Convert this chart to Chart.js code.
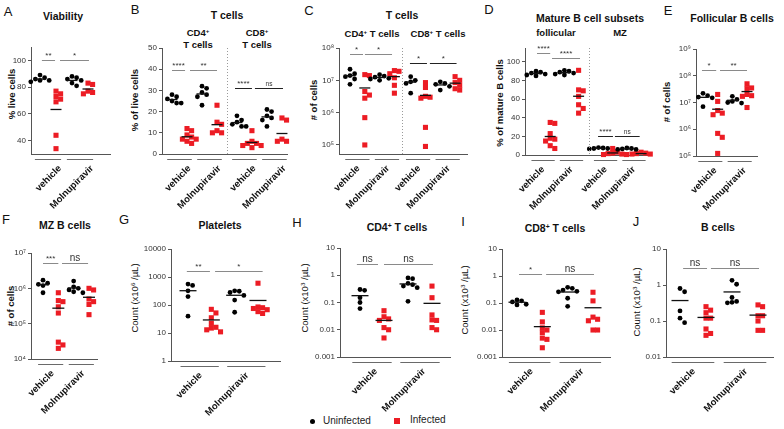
<!DOCTYPE html>
<html>
<head>
<meta charset="utf-8">
<script src="https://cdn.jsdelivr.net/npm/chart.js@4.4.1/dist/chart.umd.min.js"></script>
<style>
  body { margin: 0; background: #fff; }
  #fig { position: relative; width: 784px; height: 429px; overflow: hidden; font-family: "Liberation Sans", Arial, sans-serif; color: #111; }
  #fig canvas { position: absolute; }
  .t { position: absolute; transform: translate(-50%, -50%); white-space: nowrap; line-height: 1; }
  .title { font-weight: bold; font-size: 10.5px; }
  .sub { font-weight: bold; font-size: 9.5px; text-align: center; line-height: 12px; }
  .letter { font-size: 13px; }
  .yt { font-weight: bold; font-size: 9.5px; transform: translate(-50%, -50%) rotate(-90deg); }
  .yc { font-size: 9.5px; transform: translate(-50%, -50%) rotate(-90deg); }
  sup { font-size: 65%; position: relative; top: -0.5em; vertical-align: baseline; line-height: 0; }
  .leg { position: absolute; font-size: 10px; color: #222; line-height: 1; }
  .dot { position: absolute; width: 5px; height: 5px; border-radius: 50%; background: #000; }
  .sq { position: absolute; width: 6px; height: 6px; background: #ec1c24; }
</style>
</head>
<body>
<div id="fig">
  <!-- panel letters -->
  <div class="t letter" style="left:8px;top:11px">A</div>
  <div class="t letter" style="left:135px;top:9px">B</div>
  <div class="t letter" style="left:309px;top:10px">C</div>
  <div class="t letter" style="left:489px;top:9px">D</div>
  <div class="t letter" style="left:668px;top:10px">E</div>
  <div class="t letter" style="left:6px;top:219px">F</div>
  <div class="t letter" style="left:124px;top:219px">G</div>
  <div class="t letter" style="left:297px;top:222px">H</div>
  <div class="t letter" style="left:463px;top:221px">I</div>
  <div class="t letter" style="left:636px;top:221px">J</div>

  <!-- titles -->
  <div class="t title" style="left:63px;top:16px">Viability</div>
  <div class="t title" style="left:227px;top:15px">T cells</div>
  <div class="t sub" style="left:198px;top:39px">CD4<sup>+</sup><br>T cells</div>
  <div class="t sub" style="left:257px;top:39px">CD8<sup>+</sup><br>T cells</div>
  <div class="t title" style="left:402px;top:15px">T cells</div>
  <div class="t sub" style="left:372px;top:34px">CD4<sup>+</sup> T cells</div>
  <div class="t sub" style="left:438px;top:34px">CD8<sup>+</sup> T cells</div>
  <div class="t title" style="left:590px;top:18px">Mature B cell subsets</div>
  <div class="t sub" style="left:556px;top:33px">follicular</div>
  <div class="t sub" style="left:620px;top:33px">MZ</div>
  <div class="t title" style="left:732px;top:18px">Follicular B cells</div>
  <div class="t title" style="left:65px;top:225px">MZ B cells</div>
  <div class="t title" style="left:220px;top:225px">Platelets</div>
  <div class="t title" style="left:397px;top:227px">CD4<sup>+</sup> T cells</div>
  <div class="t title" style="left:555px;top:228px">CD8<sup>+</sup> T cells</div>
  <div class="t title" style="left:718px;top:227px">B cells</div>

  <!-- y axis titles -->
  <div class="t yt" style="left:12px;top:94px">% live cells</div>
  <div class="t yt" style="left:135px;top:100px">% of live cells</div>
  <div class="t yt" style="left:314px;top:100px"># of cells</div>
  <div class="t yt" style="left:500px;top:103px">% of mature B cells</div>
  <div class="t yt" style="left:667px;top:102px"># of cells</div>
  <div class="t yt" style="left:11px;top:306px"># of cells</div>
  <div class="t yc" style="left:135px;top:298px">Count (x10<sup>6</sup> /µL)</div>
  <div class="t yc" style="left:305px;top:298px">Count (x10<sup>3</sup> /µL)</div>
  <div class="t yc" style="left:465px;top:300px">Count (x10<sup>3</sup> /µL)</div>
  <div class="t yc" style="left:637px;top:302px">Count (x10<sup>3</sup> /µL)</div>

  <!-- legend -->
  <div class="dot" style="left:310px;top:419px"></div>
  <div class="leg" style="left:323px;top:416px">Uninfected</div>
  <div class="sq" style="left:394px;top:418px"></div>
  <div class="leg" style="left:410px;top:415px">Infected</div>
</div>
<script>
const treatments = ['vehicle', 'Molnupiravir'];
const seriesNames = ['Uninfected', 'Infected'];
const seriesColors = ['#000000', '#ec1c24'];

// group order in every panel: vehicle Uninfected, vehicle Infected, Molnupiravir Uninfected, Molnupiravir Infected (repeated per subset)

// A  viability (% live cells)
const viability = [
    [89, 87, 86, 85, 85, 84],
    [77, 75, 73, 71, 69, 44, 34],
    [88, 87, 86, 85, 83, 81],
    [83, 82, 77, 76, 75]
];
const viabilityTicks = [40, 60, 80, 100];
const viabilitySig = ['**', '*'];

// B  T cells, % of live cells (CD4 then CD8)
const tCellPct = [
    [28, 27, 26, 25, 24, 24],
    [12, 11, 9, 8, 7, 7, 6, 5],
    [32, 31, 29, 28, 27, 23],
    [23, 15, 14, 11, 10, 10],
    [18, 16, 15, 14, 13, 13],
    [11, 6, 5, 5, 4, 4, 3],
    [21, 20, 18, 17, 16, 13],
    [17, 16, 7, 6, 6, 6]
];
const tCellPctTicks = [0, 10, 20, 30, 40, 50];
const tCellPctSig = ['****', '**', '****', 'ns'];

// C  T cells, # of cells (CD4 then CD8)
const tCellCount = [
    [2.2e7, 1.6e7, 1.4e7, 1.3e7, 1.1e7, 7.5e6],
    [1.5e7, 1.4e7, 4.5e6, 3.5e6, 2.8e6, 7e5, 1e5],
    [1.5e7, 1.35e7, 1.25e7, 1.15e7, 1.1e7, 1e7],
    [2e7, 1.9e7, 1.6e7, 1.2e7, 7e6, 4e6],
    [1.3e7, 1e7, 9e6, 8e6, 4e6],
    [8.5e6, 6e6, 3.2e6, 3e6, 2.8e6, 3.5e5, 9e4],
    [9e6, 8e6, 7.5e6, 6.5e6, 5e6],
    [1.3e7, 1e7, 8.5e6, 7e6, 5.5e6, 5e6]
];
const tCellCountTicks = [1e5, 1e6, 1e7, 1e8];
const tCellCountTickLabels = ['10⁵', '10⁶', '10⁷', '10⁸'];
const tCellCountSig = ['*', '*', '*', '*'];

// D  mature B cell subsets, % (follicular then MZ)
const matureB = [
    [90, 89, 88, 87, 86, 85],
    [35, 34, 23, 18, 17, 15, 10, 7],
    [91, 90, 89, 88, 87, 86],
    [91, 70, 69, 63, 54, 50, 45],
    [8, 7.5, 7, 7, 6.5],
    [7, 3, 2, 1.5, 1, 0.5, 0.5],
    [7.5, 7, 6.5, 6, 6],
    [3, 2, 1.5, 1, 1, 0.5]
];
const matureBTicks = [0, 20, 40, 60, 80, 100];
const matureBSig = ['****', '****', '****', 'ns'];

// E  follicular B cells, # of cells
const follicularB = [
    [2.2e7, 1.8e7, 1.6e7, 1.5e7, 7e6],
    [2e7, 1.1e7, 5e6, 4e6, 3.5e6, 7e5, 5e5, 1.25e5],
    [1.7e7, 1.3e7, 1.1e7, 1e7, 9.5e6],
    [5e7, 3.5e7, 3.3e7, 2e7, 1.8e7, 1.7e7, 6.5e6]
];
const follicularBTicks = [1e5, 1e6, 1e7, 1e8, 1e9];
const follicularBTickLabels = ['10⁵', '10⁶', '10⁷', '10⁸', '10⁹'];
const follicularBSig = ['*', '**'];

// F  MZ B cells, # of cells
const mzB = [
    [1.7e6, 1.4e6, 1.3e6, 1.2e6, 7.5e5],
    [7.5e5, 4.5e5, 4.2e5, 3e5, 2e5, 3e4, 2.5e4, 2e4],
    [1.6e6, 1.1e6, 1e6, 9e5, 8e5, 7.5e5],
    [1e6, 9e5, 5e5, 4.2e5, 3.5e5, 1.8e5]
];
const mzBTicks = [1e4, 1e5, 1e6, 1e7];
const mzBTickLabels = ['10⁴', '10⁵', '10⁶', '10⁷'];
const mzBSig = ['***', 'ns'];

// G  platelets, count (x10^6 /uL)
const platelets = [
    [560, 500, 320, 200, 40],
    [70, 52, 35, 22, 16, 15, 13, 11],
    [320, 310, 280, 220, 150, 55],
    [600, 85, 80, 75, 68, 58, 50]
];
const plateletTicks = [1, 10, 100, 1000, 10000];
const plateletSig = ['**', '*'];

// H / I / J  blood counts (x10^3 /uL)
const cd4Blood = [
    [0.3, 0.28, 0.15, 0.1, 0.06],
    [0.05, 0.03, 0.025, 0.022, 0.012, 0.01, 0.005],
    [0.8, 0.75, 0.5, 0.45, 0.4, 0.35, 0.11],
    [0.4, 0.15, 0.035, 0.023, 0.022, 0.012, 0.01]
];
const cd8Blood = [
    [0.13, 0.12, 0.11, 0.09, 0.085],
    [0.045, 0.02, 0.012, 0.01, 0.008, 0.005, 0.0045, 0.0022],
    [0.38, 0.35, 0.3, 0.27, 0.26, 0.15, 0.075],
    [0.25, 0.12, 0.03, 0.025, 0.022, 0.01, 0.01]
];
const bBlood = [
    [0.8, 0.65, 0.19, 0.12, 0.09],
    [0.25, 0.2, 0.17, 0.12, 0.12, 0.06, 0.045, 0.04],
    [1.35, 1.05, 0.45, 0.35, 0.33, 0.32],
    [0.28, 0.25, 0.14, 0.14, 0.1, 0.055, 0.055]
];
const bloodTicks = [0.001, 0.01, 0.1, 1, 10];
const bloodTickLabels = ['0.001', '0.01', '0.1', '1', '10'];
const cd4BloodSig = ['ns', 'ns'];
const cd8BloodSig = ['*', 'ns'];
const bBloodSig = ['ns', 'ns'];

const FONT = '"Liberation Sans", Arial, sans-serif';
const XS4 = [0, 1, 2, 3];

// layout of each panel: plot box in page pixels, pixel of group 0 and px per group
// sigLines: [from group, to group, y value, dark line]
const panels = [
    { plot: { l: 31, r: 110, t: 47, b: 154 }, x0: 40, step: 16, xs: XS4,
      ymin: 30, ymax: 110, log: false, ticks: viabilityTicks, values: viability, sig: viabilitySig,
      sigLines: [[0.12, 0.94, 100], [1.25, 3.06, 100]], labelDx: 12, meanHalf: 5.5, nsSize: 6.5 },
    { plot: { l: 162, r: 287, t: 48, b: 154 }, x0: 172, step: 15, xs: [0, 1, 2, 3, 4.33, 5.33, 6.33, 7.33], sep: 3.67,
      ymin: 0, ymax: 50, log: false, ticks: tCellPctTicks, values: tCellPct, sig: tCellPctSig,
      sigLines: [[0, 0.87, 39.5], [1.2, 3, 39.5], [4.2, 5.33, 31, true], [5.53, 7.4, 31, true]], labelDx: 10, meanHalf: 5.5, nsSize: 6.5 },
    { plot: { l: 339, r: 467, t: 48, b: 154 }, x0: 350, step: 14.8, xs: [0, 1, 2, 3, 4.1, 5.1, 6.1, 7.1], sep: 3.51,
      ymin: 5.25e4, ymax: 1e8, log: true, ticks: tCellCountTicks, tickLabels: tCellCountTickLabels, values: tCellCount, sig: tCellCountSig,
      sigLines: [[0, 0.88, 6.5e7], [1.01, 2.84, 6.5e7], [4.05, 5.2, 3.4e7, true], [5.4, 7.2, 3.4e7, true]], labelDx: 1, meanHalf: 5.5, nsSize: 6.5 },
    { plot: { l: 525, r: 650, t: 48, b: 155 }, x0: 536, step: 14.2, xs: [0, 1, 2, 3, 4.4, 5.4, 6.4, 7.4], sep: 3.73,
      ymin: 0, ymax: 115, log: false, ticks: matureBTicks, values: matureB, sig: matureBSig,
      sigLines: [[0.07, 1, 110], [1.13, 3.1, 104], [4.37, 5.42, 20, true], [5.56, 7.3, 20, true]], labelDx: 0, meanHalf: 5.5, nsSize: 6.5 },
    { plot: { l: 696, r: 757, t: 49, b: 156 }, x0: 703, step: 14.67, xs: XS4,
      ymin: 1e5, ymax: 1e9, log: true, ticks: follicularBTicks, tickLabels: follicularBTickLabels, values: follicularB, sig: follicularBSig,
      sigLines: [[-0.07, 0.9, 1.7e8], [1.16, 3, 1.7e8]], labelDx: 5, meanHalf: 5.5, nsSize: 6.5 },
    { plot: { l: 31, r: 97, t: 253, b: 359 }, x0: 43, step: 15.33, xs: XS4,
      ymin: 1e4, ymax: 1e7, log: true, ticks: mzBTicks, tickLabels: mzBTickLabels, values: mzB, sig: mzBSig,
      sigLines: [[0, 1, 5.2e6], [1.24, 2.94, 5.2e6]], labelDx: 2, meanHalf: 6, nsSize: 10 },
    { plot: { l: 171, r: 280, t: 249, b: 361 }, x0: 188, step: 23.33, xs: XS4,
      ymin: 1, ymax: 1e4, log: true, ticks: plateletTicks, values: platelets, sig: plateletSig,
      sigLines: [[-0.05, 0.94, 1630], [1.16, 3.2, 1630]], labelDx: 1, meanHalf: 8.5, nsSize: 10 },
    { plot: { l: 340, r: 450, t: 248, b: 357 }, x0: 360, step: 24, xs: XS4,
      ymin: 0.001, ymax: 10, log: true, ticks: bloodTicks, tickLabels: bloodTickLabels, values: cd4Blood, sig: cd4BloodSig,
      sigLines: [[-0.13, 0.75, 2.6], [1, 3.04, 2.6]], labelDx: 4, meanHalf: 8.5, nsSize: 10 },
    { plot: { l: 502, r: 610, t: 249, b: 357 }, x0: 517, step: 25.33, xs: XS4,
      ymin: 0.001, ymax: 10, log: true, ticks: bloodTicks, tickLabels: bloodTickLabels, values: cd8Blood, sig: cd8BloodSig,
      sigLines: [[0.08, 0.99, 1.2], [1.15, 3.04, 1.2]], labelDx: 2, meanHalf: 8.5, nsSize: 10 },
    { plot: { l: 666, r: 773, t: 249, b: 357 }, x0: 680, step: 26, xs: XS4,
      ymin: 0.01, ymax: 10, log: true, ticks: bloodTicks.slice(1), tickLabels: bloodTickLabels.slice(1), values: bBlood, sig: bBloodSig,
      sigLines: [[0.12, 1.04, 3], [1.19, 3.04, 3]], labelDx: 1, meanHalf: 8.5, nsSize: 10 }
];

// spread points that would overlap (simple beeswarm in pixel space)
function swarm(p, vals) {
    const H = p.plot.b - p.plot.t;
    const f = p.log ? Math.log10 : v => v;
    const lo = f(p.ymin), hi = f(p.ymax);
    const placed = [];
    const gap = 4.6;
    return vals.map(v => {
        const yy = (f(v) - lo) / (hi - lo) * H;
        for (let k = 0; k < 15; k++) {
            const dx = (k % 2 ? 1 : -1) * Math.ceil(k / 2) * gap;
            if (placed.every(q => Math.hypot(q.dx - dx, q.y - yy) >= gap)) {
                placed.push({ dx, y: yy });
                return dx / p.step;
            }
        }
        return 0;
    });
}

function seriesPoints(p, series) {
    const pts = [];
    p.values.forEach((vals, i) => {
        if (i % 2 !== series) return;
        const offs = swarm(p, vals);
        vals.forEach((v, j) => pts.push({ x: p.xs[i] + offs[j], y: v }));
    });
    return pts;
}

function annotations(p) {
    return {
        id: 'annotations',
        afterDatasetsDraw(chart) {
            const { ctx, chartArea: area, scales: { x, y } } = chart;
            ctx.save();

            // dotted divider between subsets
            if (p.sep !== undefined) {
                const sx = Math.round(x.getPixelForValue(p.sep)) + 0.5;
                ctx.strokeStyle = '#9a9a9a';
                ctx.lineWidth = 1;
                ctx.setLineDash([1, 2]);
                ctx.beginPath();
                ctx.moveTo(sx, area.top);
                ctx.lineTo(sx, area.bottom);
                ctx.stroke();
                ctx.setLineDash([]);
            }

            // group means
            ctx.strokeStyle = '#111';
            ctx.lineWidth = 1.3;
            p.values.forEach((vals, i) => {
                const m = vals.reduce((a, b) => a + b, 0) / vals.length;
                const cx = x.getPixelForValue(p.xs[i]);
                const my = y.getPixelForValue(m);
                ctx.beginPath();
                ctx.moveTo(cx - p.meanHalf, my);
                ctx.lineTo(cx + p.meanHalf, my);
                ctx.stroke();
            });

            // significance bars
            p.sigLines.forEach((s, k) => {
                const x1 = x.getPixelForValue(s[0]);
                const x2 = x.getPixelForValue(s[1]);
                const sy = Math.round(y.getPixelForValue(s[2])) + 0.5;
                ctx.strokeStyle = s[3] ? '#222' : '#8a8a8a';
                ctx.lineWidth = 1;
                ctx.beginPath();
                ctx.moveTo(x1, sy);
                ctx.lineTo(x2, sy);
                ctx.stroke();
                const label = p.sig[k];
                const ns = label === 'ns';
                ctx.fillStyle = '#333';
                ctx.font = (ns ? p.nsSize : 8) + 'px ' + FONT;
                ctx.textAlign = 'center';
                ctx.textBaseline = ns ? 'alphabetic' : 'top';
                ctx.fillText(label, (x1 + x2) / 2, ns ? sy - 3 : sy - 9);
            });

            // treatment underlines and rotated labels
            for (let k = 0; k < p.xs.length / 2; k++) {
                const c = (x.getPixelForValue(p.xs[2 * k]) + x.getPixelForValue(p.xs[2 * k + 1])) / 2;
                const half = 0.82 * p.step;
                const uy = Math.round(area.bottom) + 5.5;
                ctx.strokeStyle = '#6a6a6a';
                ctx.lineWidth = 1;
                ctx.beginPath();
                ctx.moveTo(c - half, uy);
                ctx.lineTo(c + half, uy);
                ctx.stroke();

                ctx.save();
                ctx.translate(c + p.labelDx, area.bottom + 13);
                ctx.rotate(-Math.PI / 4);
                ctx.font = 'bold 9.5px ' + FONT;
                ctx.textAlign = 'right';
                ctx.textBaseline = 'middle';
                ctx.fillStyle = '#111';
                ctx.fillText(treatments[k % 2], 0, 0);
                ctx.restore();
            }
            ctx.restore();
        }
    };
}

const fig = document.getElementById('fig');

panels.forEach(p => {
    const box = { l: p.plot.l - 34, t: p.plot.t - 44, r: Math.min(p.plot.r + 10, 784), b: p.plot.b + 62 };
    const cv = document.createElement('canvas');
    cv.width = box.r - box.l;
    cv.height = box.b - box.t;
    cv.style.left = box.l + 'px';
    cv.style.top = box.t + 'px';
    fig.appendChild(cv);

    const labels = p.tickLabels || p.ticks.map(String);

    new Chart(cv, {
        type: 'scatter',
        data: {
            datasets: seriesNames.map((name, si) => ({
                label: name,
                data: seriesPoints(p, si),
                pointStyle: si ? 'rect' : 'circle',
                pointRadius: si ? 3.6 : 2.4,
                pointBackgroundColor: seriesColors[si],
                pointBorderWidth: 0,
                clip: false
            }))
        },
        options: {
            responsive: false,
            animation: false,
            events: [],
            layout: { padding: { top: p.plot.t - box.t, right: box.r - p.plot.r, left: 0, bottom: 0 } },
            plugins: { legend: { display: false }, tooltip: { enabled: false } },
            scales: {
                x: {
                    type: 'linear',
                    min: (p.plot.l - p.x0) / p.step,
                    max: (p.plot.r - p.x0) / p.step,
                    ticks: { display: false },
                    grid: { display: false },
                    border: { color: '#555', width: 1 },
                    afterFit: s => { s.height = box.b - p.plot.b; }
                },
                y: {
                    type: p.log ? 'logarithmic' : 'linear',
                    min: p.ymin,
                    max: p.ymax,
                    afterBuildTicks: s => { s.ticks = p.ticks.map(v => ({ value: v })); },
                    ticks: {
                        callback: (v, i) => labels[i],
                        font: { size: 8, family: FONT },
                        color: '#333',
                        padding: 2,
                        autoSkip: false
                    },
                    grid: { drawOnChartArea: false, drawTicks: true, tickLength: 3, color: '#555' },
                    border: { color: '#555', width: 1 },
                    afterFit: s => { s.width = p.plot.l - box.l; }
                }
            }
        },
        plugins: [annotations(p)]
    });
});
</script>
</body>
</html>
